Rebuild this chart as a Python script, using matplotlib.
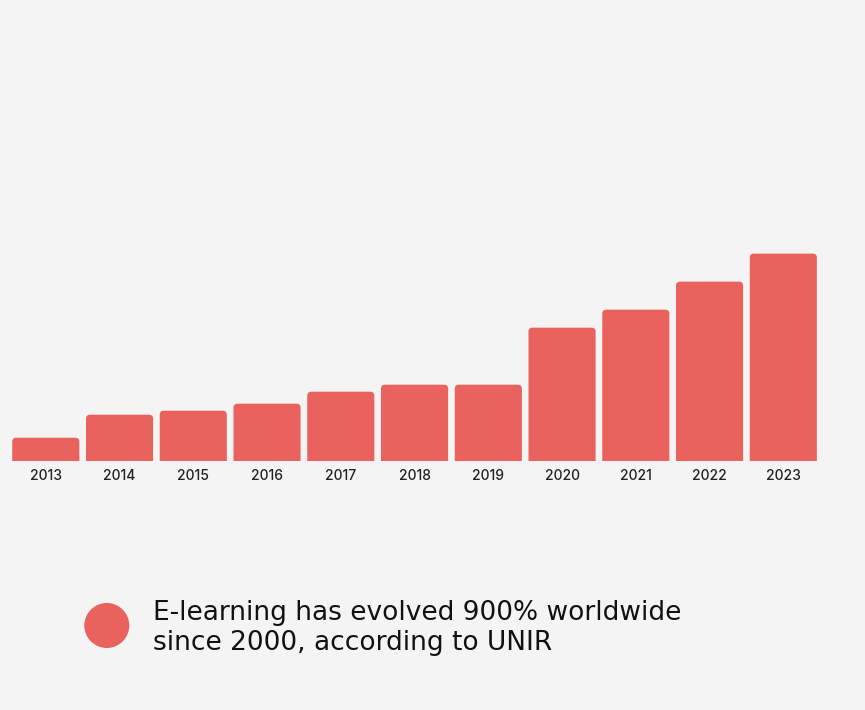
import matplotlib
matplotlib.use("Agg")
import matplotlib.pyplot as plt
from matplotlib.patches import FancyBboxPatch, Ellipse

years = ['2013', '2014', '2015', '2016', '2017', '2018',
         '2019', '2020', '2021', '2022', '2023']
values = [23, 46, 50, 57, 69, 76, 76, 133, 151, 179, 207]

bar_color = '#ea625d'
bg = '#f4f4f4'

plt.rcParams['font.family'] = ['Inter', 'DejaVu Sans']

fig = plt.figure(figsize=(8.65, 7.10), dpi=100, facecolor=bg)
ax = fig.add_axes([0.0103, 0.3511, 0.9379, 0.31])
ax.set_facecolor(bg)

w = 0.91
for i, v in enumerate(values):
    # rounded top corners, bottom hidden under the axis edge
    box = FancyBboxPatch((i - w / 2, -10), w, v + 10,
                         boxstyle="round,pad=0,rounding_size=0.055",
                         mutation_aspect=73.75,
                         facecolor=bar_color, edgecolor='none')
    ax.add_patch(box)

ax.set_xlim(-0.5, len(years) - 0.5)
ax.set_ylim(0, 220)
ax.set_xticks(range(len(years)))
ax.set_xticklabels(years, fontsize=10, color='#222222', fontweight='medium')
ax.tick_params(axis='x', length=0, pad=6)
ax.set_yticks([])
for s in ax.spines.values():
    s.set_visible(False)

fig.add_artist(Ellipse((106.8 / 865, 1 - 625.5 / 710), 45 / 865, 45 / 710,
                       transform=fig.transFigure, facecolor=bar_color,
                       edgecolor='none'))
fig.text(153 / 865, 1 - 628 / 710,
         "E-learning has evolved 900% worldwide\nsince 2000, according to UNIR",
         fontsize=19, color='#111111', ha='left', va='center',
         linespacing=1.2, family='DejaVu Sans')

fig.savefig('out.png', dpi=100, facecolor=bg)
